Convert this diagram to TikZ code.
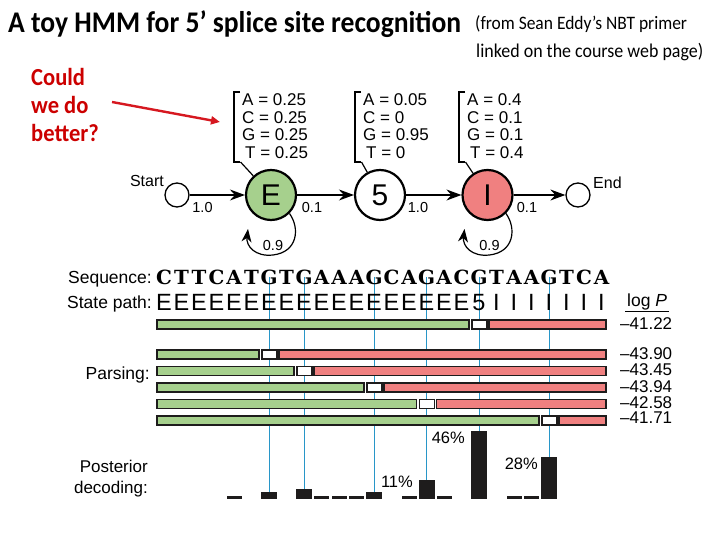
\documentclass[tikz,border=0pt]{standalone}
\usepackage{fontspec}
\setmainfont{Liberation Sans}
\newfontfamily\calfont[FakeStretch=0.92]{Carlito}
\newfontfamily\seqfont[FakeStretch=1.02]{DejaVu Serif}
\usetikzlibrary{arrows.meta}
\definecolor{egreen}{RGB}{166,208,141}
\definecolor{ired}{RGB}{240,128,128}
\definecolor{slidered}{RGB}{204,0,0}
\definecolor{arrowred}{RGB}{214,24,32}
\definecolor{lineblue}{RGB}{40,150,200}
\definecolor{barblack}{RGB}{30,28,28}
\pgfdeclarelayer{bg}
\pgfsetlayers{bg,main}
\newcommand\myfs[1]{\fontsize{#1}{#1}\selectfont}
\begin{document}
\begin{tikzpicture}[x=1pt,y=-1pt,
  lab/.style={inner sep=0, anchor=base west},
  state/.style={circle, draw=black, line width=2.2pt, minimum size=50pt, inner sep=0, font=\myfs{30}},
  term/.style={circle, draw=black, line width=1.3pt, minimum size=24pt, inner sep=0},
  trans/.style={line width=1.2pt, -{Stealth[length=15pt,width=11pt,inset=5pt]}},
  loopst/.style={line width=1.2pt, -{Stealth[length=13pt,width=10pt,inset=4pt]}},
  emit/.style={line width=1.2pt},
  tlab/.style={inner sep=0, anchor=base, font=\myfs{14.5}},
  seqc/.style={inner sep=0, anchor=base, font=\seqfont\bfseries\myfs{19.5}},
  pathc/.style={inner sep=0, anchor=base, font=\myfs{23.5}},
  lbl/.style={inner sep=0, anchor=base east, font=\myfs{17.5}},
  emtext/.style={inner sep=0, anchor=base west, font={\fontsize{17}{17.5}\selectfont}},
  pbar/.style={fill=barblack, draw=none, inner sep=0},
  parsebar/.style={draw=barblack, line width=1.4pt},
  blueline/.style={draw=lineblue, line width=0.9pt},
  pct/.style={inner sep=0, anchor=base east, font=\myfs{16.5}},
  logv/.style={inner sep=0, anchor=base west, font=\myfs{17}}]
\useasboundingbox (0,0) rectangle (720,540);

% ---- slide texts
\node[lab, font=\calfont\bfseries\myfs{30}] (title) at (8,33) {A toy HMM for 5’ splice site recognition};
\node[lab, font=\calfont\myfs{19}] (sub1) at (475,30) {(from Sean Eddy’s NBT primer};
\node[lab, font=\calfont\myfs{19.5}] (sub2) at (476,58) {linked on the course web page)};
\node[lab, font=\calfont\bfseries\myfs{24.5}, text=slidered] (c1) at (31,86) {Could};
\node[lab, font=\calfont\bfseries\myfs{24.5}, text=slidered] (c2) at (31,114) {we do};
\node[lab, font=\calfont\bfseries\myfs{24.5}, text=slidered] (c3) at (31,142) {better?};
\coordinate (ra1) at (112,102);
\coordinate (ra2) at (220,122);
\draw[arrowred, line width=2.4pt, -{Triangle[length=9pt,width=8pt]}] (ra1) -- (ra2);

% ---- HMM states
\node[term] (S) at (177,195) {};
\node[state, fill=egreen] (E) at (271,195) {E};
\node[state, fill=white] (F) at (380,195) {5};
\node[state, fill=ired] (I) at (487.5,195) {I};
\node[term] (T) at (578,195) {};
\node[inner sep=0, anchor=base east, font=\myfs{16}] (startl) at (164,187) {Start};
\node[inner sep=0, anchor=base west, font=\myfs{16}] (endl) at (593,189) {End};

\draw[trans] (S) -- (E);
\draw[trans] (E) -- (F);
\draw[trans] (F) -- (I);
\draw[trans] (I) -- (T);
\node[tlab] (t1) at (202.5,213) {1.0};
\node[tlab] (t2) at (312,213) {0.1};
\node[tlab] (t3) at (418,213) {1.0};
\node[tlab] (t4) at (527,213) {0.1};

\foreach \n/\cx in {E/271, I/487.5} {
  \draw[loopst] (\n.-45) .. controls ({\cx+29},228) and ({\cx+27},252) .. ({\cx+2},255)
     .. controls ({\cx-16},257) and ({\cx-25},246) .. ({\cx-23},229);
  \node[tlab] (loop\n) at ({\cx+2},250) {0.9};
}

% ---- emission boxes
\foreach \n/\bx/\ea/\ec/\eg/\et in {E/234/0.25/0.25/0.25/0.25, F/355/0.05/0/0.95/0, I/459/0.4/0.1/0.1/0.4} {
  \draw[emit] ({\bx+6},92) -- (\bx,92) -- (\bx,162) -- ({\bx+6},162);
  \coordinate (b\n) at ({\bx+6.5},162);
  \draw[emit] (b\n) -- (\n);
  \node[emtext] (em\n) at ({\bx+8},106) {\begin{tabular}[t]{@{}l@{}}A = \ea\\C = \ec\\G = \eg\\\hspace{3pt}T = \et\end{tabular}};
}

% ---- sequence and state path
\node[lbl] (seql) at (152,283.5) {Sequence:};
\node[lbl] (pathl) at (152,308.5) {State path:};
\foreach \c [count=\i from 0] in {C,T,T,C,A,T,G,T,G,A,A,A,G,C,A,G,A,C,G,T,A,A,G,T,C,A}
  \node[seqc] (s\i) at ({164+17.5*\i},284) {\c};
\foreach \c [count=\i from 0] in {E,E,E,E,E,E,E,E,E,E,E,E,E,E,E,E,E,E,5,I,I,I,I,I,I,I}
  \node[pathc] (q\i) at ({164+17.5*\i},310) {\c};

% ---- parses
\foreach \yy/\xx in {320/479, 350/269, 366.5/304, 383/374, 399.5/426.5, 416/549} {
  \draw[parsebar, fill=egreen] (157,\yy) rectangle ({\xx-10},{\yy+9});
  \draw[parsebar, fill=white] ({\xx-7},\yy) rectangle ({\xx+8},{\yy+9});
  \draw[parsebar, fill=ired] ({\xx+10},\yy) rectangle (606,{\yy+9});
}
\node[lbl] (parsl) at (150,379) {Parsing:};
\node[inner sep=0, anchor=base west, font=\myfs{17.5}] (logp) at (627,306) {log \textit{P}};
\draw[line width=1.5pt] (625,311.5) -- (669,311.5);
\foreach \v/\yy [count=\k] in {–41.22/329, –43.90/359, –43.45/375, –43.94/392, –42.58/408, –41.71/423.5}
  \node[logv] (lp\k) at (620,\yy) {\v};

% ---- posterior decoding
\node[lbl, font=\myfs{17}] (postl1) at (148,472) {Posterior};
\node[lbl, font=\myfs{17}] (postl2) at (148,493) {decoding:};
\foreach \i/\h in {6/7, 8/10, 12/7, 15/19, 18/68, 22/42}
  \node[pbar, minimum width=16pt, minimum height={\h*1pt}, anchor=south] (d\i) at ({164+17.5*\i},499) {};
\foreach \i in {4,9,10,11,14,16,20,21}
  \node[pbar, minimum width=15pt, minimum height=2.5pt, anchor=south] (z\i) at ({164+17.5*\i},499) {};
\node[pct] (p46) at (465,443) {46\%};
\node[pct] (p28) at (538,469) {28\%};
\node[pct] (p11) at (413,487) {11\%};

\begin{pgfonlayer}{bg}
  \foreach \i in {6,8,12,15,18,22}
    \draw[blueline] (s\i.center) -- (d\i.south);
\end{pgfonlayer}
\end{tikzpicture}
\end{document}
